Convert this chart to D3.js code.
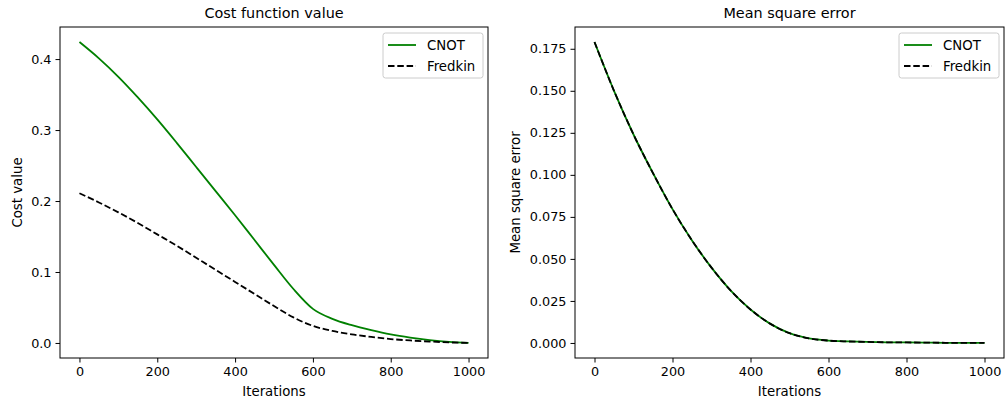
<!DOCTYPE html>
<html>
<head>
<meta charset="utf-8">
<script src="https://cdn.jsdelivr.net/npm/d3@7"></script>
<style>
  body { margin: 0; background: #fff; }
  svg text { font-family: "DejaVu Sans", sans-serif; fill: #000; }
</style>
</head>
<body>
<div id="chart"></div>
<script>
const iterations = [0, 50, 100, 150, 200, 250, 300, 350, 400, 450, 500, 550, 600, 650, 700, 750, 800, 850, 900, 950, 1000];

// left panel: cost value
const costCNOT    = [0.424, 0.401, 0.375, 0.346, 0.315, 0.282, 0.248, 0.214, 0.180, 0.145, 0.110, 0.076, 0.048, 0.034, 0.025, 0.018, 0.012, 0.0075, 0.004, 0.0015, 0.0];
const costFredkin = [0.211, 0.198, 0.184, 0.169, 0.153, 0.137, 0.120, 0.103, 0.086, 0.069, 0.052, 0.036, 0.024, 0.017, 0.012, 0.0085, 0.0055, 0.0035, 0.002, 0.0008, 0.0];

// right panel: mean square error
const mseCNOT    = [0.179, 0.150, 0.124, 0.101, 0.0796, 0.061, 0.0448, 0.031, 0.0199, 0.0115, 0.0058, 0.0027, 0.0014, 0.0009, 0.0006, 0.0004, 0.0003, 0.0002, 0.0001, 0.00005, 0.0];
const mseFredkin = [0.179, 0.150, 0.124, 0.101, 0.0796, 0.061, 0.0448, 0.031, 0.0199, 0.0115, 0.0058, 0.0027, 0.0014, 0.0009, 0.0006, 0.0004, 0.0003, 0.0002, 0.0001, 0.00005, 0.0];

const xTicks = [0, 200, 400, 600, 800, 1000];
const costTicks = [0.0, 0.1, 0.2, 0.3, 0.4];
const mseTicks = [0.000, 0.025, 0.050, 0.075, 0.100, 0.125, 0.150, 0.175];
const seriesNames = ["CNOT", "Fredkin"];

const svg = d3.select("#chart").append("svg").attr("width", 1005).attr("height", 401);

function drawPanel(opts) {
    const x = d3.scaleLinear().domain([-50, 1050]).range([opts.left, opts.right]);
    const y = d3.scaleLinear().domain(opts.yDomain).range([358, 27]);
    const g = svg.append("g");

    // axes
    const xa = g.append("g").attr("transform", "translate(0,358)")
        .call(d3.axisBottom(x).tickValues(xTicks).tickSize(4.5).tickPadding(4).tickFormat(d3.format("d")));
    const ya = g.append("g").attr("transform", `translate(${opts.left},0)`)
        .call(d3.axisLeft(y).tickValues(opts.ticks).tickSize(4.5).tickPadding(4).tickFormat(opts.fmt));
    [xa, ya].forEach(a => {
        a.select(".domain").remove();
        a.selectAll("line").attr("stroke", "#000").attr("stroke-width", 1);
        a.selectAll("text").attr("font-size", 12.8).attr("font-family", "DejaVu Sans");
    });

    const line = d3.line().x((d, i) => x(iterations[i])).y(d => y(d)).curve(d3.curveMonotoneX);

    g.append("path").datum(opts.a).attr("d", line)
        .attr("fill", "none").attr("stroke", "green").attr("stroke-width", 1.8);
    g.append("path").datum(opts.b).attr("d", line)
        .attr("fill", "none").attr("stroke", "#000").attr("stroke-width", 1.8)
        .attr("stroke-dasharray", "6.5,2.8");

    // frame
    g.append("rect").attr("x", opts.left).attr("y", 27)
        .attr("width", opts.right - opts.left).attr("height", 331)
        .attr("fill", "none").attr("stroke", "#000").attr("stroke-width", 1);

    // title and labels
    g.append("text").attr("x", (opts.left + opts.right) / 2).attr("y", 18)
        .attr("text-anchor", "middle").attr("font-size", 14.4).text(opts.title);
    g.append("text").attr("x", (opts.left + opts.right) / 2).attr("y", 396)
        .attr("text-anchor", "middle").attr("font-size", 13.3).text("Iterations");
    g.append("text").attr("transform", `translate(${opts.ylabelX},192.5) rotate(-90)`)
        .attr("text-anchor", "middle").attr("font-size", 13.3).text(opts.ylabel);

    // legend
    const lx = opts.right - 105, ly = 33;
    g.append("rect").attr("x", lx).attr("y", ly).attr("width", 100).attr("height", 45)
        .attr("rx", 2.5).attr("fill", "#fff").attr("fill-opacity", 0.8)
        .attr("stroke", "#ccc").attr("stroke-width", 1);
    seriesNames.forEach((name, i) => {
        const yy = ly + 12 + i * 21;
        g.append("line").attr("x1", lx + 5).attr("x2", lx + 33).attr("y1", yy).attr("y2", yy)
            .attr("stroke", i === 0 ? "green" : "#000").attr("stroke-width", 1.8)
            .attr("stroke-dasharray", i === 0 ? null : "6.5,2.8");
        g.append("text").attr("x", lx + 44).attr("y", yy + 4.5).attr("font-size", 13.3).text(name);
    });
}

drawPanel({
    left: 60, right: 488, yDomain: [-0.0212, 0.4452], ticks: costTicks, fmt: d3.format(".1f"),
    a: costCNOT, b: costFredkin, title: "Cost function value", ylabel: "Cost value", ylabelX: 22
});
drawPanel({
    left: 575, right: 1004, yDomain: [-0.00895, 0.18795], ticks: mseTicks, fmt: d3.format(".3f"),
    a: mseCNOT, b: mseFredkin, title: "Mean square error", ylabel: "Mean square error", ylabelX: 520
});
</script>
</body>
</html>
